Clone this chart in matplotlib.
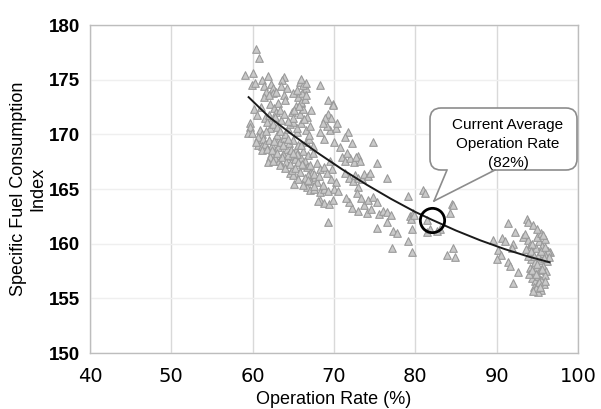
import matplotlib
matplotlib.use("Agg")
import matplotlib.pyplot as plt
import matplotlib.transforms as mtransforms
from matplotlib.patches import FancyBboxPatch, Polygon
from matplotlib.lines import Line2D

# ---------------- data ----------------
scatter_x = [
    59.0, 60.1, 59.9, 60.3, 60.4, 60.8, 61.1, 61.4, 61.9, 62.2, 62.5, 61.7,
    62.5, 63.8, 63.6, 63.8, 64.0, 62.1, 62.6, 63.1, 62.9, 63.4, 61.5, 62.2, 62.8, 63.5, 61.8,
    59.7, 59.7, 59.4, 59.9, 60.9, 61.2, 60.7, 61.3, 60.7, 61.2, 61.5, 62.1, 62.5, 63.0,
    62.0, 62.4, 62.8, 63.1, 63.4, 63.7, 63.9, 64.2, 64.5, 64.8, 65.0, 65.3, 65.6, 65.9, 66.2,
    66.5, 66.8, 62.3, 62.7, 63.2, 63.6, 64.1, 64.4, 64.7, 65.2, 65.5, 66.0, 66.4, 62.1, 61.9,
    62.5, 63.0, 64.0, 65.4, 64.3,
    64.6, 65.0, 65.5, 66.0, 66.5, 67.0, 64.8, 65.3, 65.8, 66.2, 66.7, 64.9, 66.0, 65.6, 66.1,
    66.6, 65.8, 66.2, 66.6, 65.9, 66.4, 68.3,
    69.3, 69.9, 69.9, 69.3, 69.6, 68.9, 69.5, 70.2, 70.4, 71.7, 71.4, 72.2, 70.7, 68.3, 68.8,
    69.1, 70.0, 68.6, 74.8,
    71.0, 71.4, 72.0, 72.5, 73.0, 72.7, 71.6, 73.2,
    69.5, 69.7, 69.6, 70.2, 70.0, 70.5, 66.7, 67.1, 67.1, 66.2, 67.3, 66.8, 67.9, 68.3, 68.8,
    69.2, 67.7, 67.9, 64.6, 65.0, 64.8, 66.7, 67.1, 67.6, 68.3, 68.8, 69.3, 68.3, 68.8, 69.4,
    69.9, 69.3,
    71.4, 71.8, 72.3, 72.6, 73.0, 73.4, 73.7, 74.2, 74.4, 72.9, 75.3, 76.5,
    72.8, 73.3, 73.7, 74.2, 74.8, 75.3, 72.2, 71.9, 71.5, 73.0, 74.0, 74.5, 75.5, 76.0, 76.5,
    77.0, 75.3, 77.3, 76.5, 77.7, 77.1,
    79.1, 79.4, 79.7, 79.5, 79.8, 79.1, 79.6, 79.6, 81.0, 81.2, 81.4, 81.4, 81.8, 83.0, 82.7,
    84.5, 84.6, 84.3, 84.6, 84.9, 83.9,
    91.4, 93.7, 93.9, 94.5, 92.3, 89.6, 90.7, 91.0, 92.0, 91.9, 93.2, 93.9, 94.1, 90.2, 90.5,
    90.0, 91.4, 91.6, 92.6, 92.0, 96.6, 96.3,
    94.0, 94.4, 94.8, 95.2, 95.6, 96.0, 94.2, 94.7, 95.1, 95.5, 95.9, 96.2, 94.1, 94.5, 94.9,
    95.3, 95.7, 96.1, 94.3, 94.7, 95.1, 95.5, 95.9, 94.6, 95.0, 95.4, 95.1, 95.8, 94.4, 95.0,
    95.4, 94.9, 93.9, 94.0, 96.4, 93.6, 93.5, 95.7, 96.0, 94.8,
    # extra points in the dense left cluster
    60.2, 60.5, 61.0, 61.6, 62.0, 62.6, 63.3, 63.9, 64.4, 65.1, 65.7, 66.3,
    60.4, 61.1, 61.8, 62.4, 63.0, 63.7, 64.3, 65.0, 65.6, 66.1, 66.9, 67.4,
    61.4, 62.0, 62.9, 63.5, 64.2, 64.9, 65.4, 66.0, 66.6, 67.2,
    63.3, 64.0, 64.6, 65.2, 65.8, 66.4, 67.0, 67.6, 68.1,
    65.1, 65.6, 66.2, 66.8, 67.5, 68.0, 68.6, 67.4, 66.9,
    # extra points in the right cluster
    94.2, 94.6, 95.0, 95.4, 95.8, 94.3, 94.8, 95.2, 95.6, 96.0, 94.5, 95.3,
]
scatter_y = [
    175.4, 175.6, 174.5, 174.7, 177.8, 177.0, 175.0, 174.4, 175.3, 174.6, 174.2, 173.9,
    173.8, 175.2, 175.0, 173.6, 173.1, 172.8, 172.4, 172.9, 172.0, 172.2, 171.5, 171.2, 171.6, 171.3, 171.1,
    171.0, 170.7, 170.1, 170.1, 170.4, 170.0, 169.8, 169.6, 169.0, 168.9, 169.1, 170.6, 170.9, 170.7,
    169.5, 169.0, 169.6, 168.8, 169.3, 168.2, 169.7, 168.7, 169.2, 168.0, 169.5, 168.6, 169.0, 167.8, 168.5,
    169.3, 168.1, 168.2, 167.8, 167.6, 167.9, 167.5, 168.1, 168.6, 167.7, 168.2, 169.0, 167.6, 167.9, 167.5,
    167.6, 169.9, 170.0, 170.2, 170.5,
    170.9, 171.1, 170.6, 171.0, 170.4, 170.8, 172.0, 172.6, 171.9, 172.3, 171.6, 171.5, 172.9, 173.4, 173.8,
    174.2, 174.8, 174.5, 174.7, 173.0, 173.2, 174.5,
    173.1, 172.8, 172.7, 171.9, 171.5, 171.5, 170.4, 170.6, 171.0, 170.2, 169.8, 169.2, 168.8, 170.2, 169.6,
    170.8, 169.3, 171.0, 169.3,
    167.9, 167.6, 167.8, 167.5, 168.0, 167.9, 168.3, 167.6,
    167.6, 166.8, 165.9, 165.6, 165.0, 164.8, 167.0, 167.2, 166.5, 167.2, 166.5, 166.3, 167.4, 166.8, 167.0,
    166.5, 166.1, 165.6, 166.5, 166.3, 166.7, 165.2, 164.9, 165.0, 164.7, 165.0, 164.8, 164.0, 163.7, 163.6,
    164.0, 162.0,
    166.5, 166.0, 165.7, 166.3, 166.0, 165.9, 166.4, 166.2, 166.5, 165.2, 167.4, 166.0,
    164.6, 164.2, 163.5, 164.0, 164.3, 163.8, 163.3, 163.8, 164.2, 163.0, 162.8, 163.2, 162.7, 163.0, 162.9,
    162.6, 161.4, 161.2, 162.0, 161.0, 159.6,
    164.4, 162.5, 162.8, 162.3, 162.6, 160.2, 161.3, 159.2, 164.9, 164.6, 162.2, 161.1, 161.3, 161.3, 161.2,
    163.6, 163.5, 162.8, 159.6, 158.8, 159.0,
    161.9, 162.3, 162.0, 161.7, 161.1, 160.3, 160.5, 160.2, 160.0, 159.6, 160.6, 160.3, 159.9, 159.4, 159.0,
    158.6, 158.3, 158.0, 157.4, 156.4, 159.2, 159.3,
    159.5, 159.1, 159.6, 160.2, 159.8, 160.4, 158.6, 158.3, 158.9, 158.5, 159.0, 158.4, 157.8, 157.4, 157.9,
    157.6, 158.0, 157.5, 156.9, 156.6, 157.0, 156.7, 157.1, 156.0, 156.2, 155.8, 155.6, 156.3, 160.0, 160.6,
    161.0, 161.3, 158.9, 157.2, 158.8, 159.5, 160.9, 160.8, 156.6, 155.9,
    # extra points in the dense left cluster
    172.3, 171.8, 172.5, 170.3, 171.8, 169.4, 170.3, 171.9, 171.2, 172.2, 172.6, 171.4,
    169.3, 168.6, 168.7, 168.6, 168.3, 169.0, 169.6, 168.3, 167.5, 167.3, 169.6, 168.9,
    173.4, 173.6, 173.9, 174.4, 174.2, 173.8, 174.1, 175.1, 173.6, 172.2,
    167.2, 166.9, 167.3, 166.9, 166.6, 166.0, 165.7, 166.4, 166.2,
    165.5, 165.9, 165.4, 165.8, 165.3, 163.9, 165.4, 168.3, 169.9,
    # extra points in the right cluster
    159.3, 158.9, 158.1, 159.3, 158.7, 157.6, 157.2, 156.5, 157.7, 159.7, 155.7, 156.0,
]

trend_x = [59.5, 62, 65, 68, 71, 74, 77, 80, 82, 85, 88, 91, 94, 96.5]
trend_y = [173.4, 171.6, 169.9, 168.3, 166.8, 165.4, 164.1, 162.9, 162.2, 161.2, 160.3, 159.5, 158.8, 158.3]

current_rate = 82
current_index = 162.2
callout_text = "Current Average\nOperation Rate\n(82%)"

x_ticks = [40, 50, 60, 70, 80, 90, 100]
y_ticks = [150, 155, 160, 165, 170, 175, 180]
x_label = "Operation Rate (%)"
y_label = "Specific Fuel Consumption\nIndex"

# ---------------- figure ----------------
W, H = 601, 409
fig = plt.figure(figsize=(W / 100, H / 100), dpi=100)
ax = fig.add_axes([90 / W, 1 - 353 / H, (578 - 90) / W, (353 - 25) / H])

ax.set_xlim(40, 100)
ax.set_ylim(150, 180)
ax.set_xticks(x_ticks)
ax.set_yticks(y_ticks)

ax.grid(True, axis="x", color="#d9d9d9", linewidth=1.0)
ax.grid(True, axis="y", color="#efefef", linewidth=1.0)
ax.set_axisbelow(True)
for s in ax.spines.values():
    s.set_color("#bdbdbd")
    s.set_linewidth(1.0)

ax.tick_params(axis="both", length=0)
ax.tick_params(axis="y", pad=7)
ax.tick_params(axis="x", pad=10)
for lab in ax.get_yticklabels():
    lab.set_fontfamily("Liberation Sans")
    lab.set_fontweight("bold")
    lab.set_fontsize(13.5)
for lab in ax.get_xticklabels():
    lab.set_fontfamily("DejaVu Sans")
    lab.set_fontsize(14)

ax.set_xlabel(x_label, fontfamily="Liberation Sans", fontsize=13, labelpad=4)
ax.set_ylabel(y_label, fontfamily="Liberation Sans", fontsize=13, labelpad=2,
              linespacing=1.2)

ax.scatter(scatter_x, scatter_y, marker="^", s=30, facecolor="#c9c9c9",
           edgecolor="#9a9a9a", linewidth=0.8, zorder=3)

ax.plot(trend_x, trend_y, color="#1a1a1a", linewidth=1.4, zorder=4)

ax.plot([current_rate], [current_index], marker="o", markersize=17.5,
        markerfacecolor="none", markeredgecolor="black", markeredgewidth=2.0,
        zorder=5, clip_on=False)

# ---------------- callout (pixel layout) ----------------
pix = mtransforms.Affine2D().scale(1 / W, 1 / H) + fig.transFigure
def P(px, py):
    return (px, H - py)

bx0, bx1, by0, by1 = 430, 577, 108, 170
box = FancyBboxPatch(P(bx0, by1), bx1 - bx0, by1 - by0,
                     boxstyle="round,pad=0,rounding_size=11",
                     transform=pix, facecolor="white", edgecolor="#8c8c8c",
                     linewidth=1.2, zorder=6)
fig.add_artist(box)
tail_fill = Polygon([P(447, by1 - 1.5), P(434, 201), P(495, by1 - 1.5)],
                    closed=True, transform=pix, facecolor="white",
                    edgecolor="none", zorder=7)
fig.add_artist(tail_fill)
for (xa, ya) in [(447, by1), (495, by1)]:
    fig.add_artist(Line2D([P(xa, ya)[0], P(434, 201)[0]],
                          [P(xa, ya)[1], P(434, 201)[1]],
                          transform=pix, color="#8c8c8c", linewidth=1.2,
                          zorder=8))
fig.text(508 / W, 1 - 144 / H, callout_text, ha="center", va="center",
         fontfamily="Liberation Sans", fontsize=11, linespacing=1.45,
         zorder=9)

fig.savefig("out.png", dpi=100)
